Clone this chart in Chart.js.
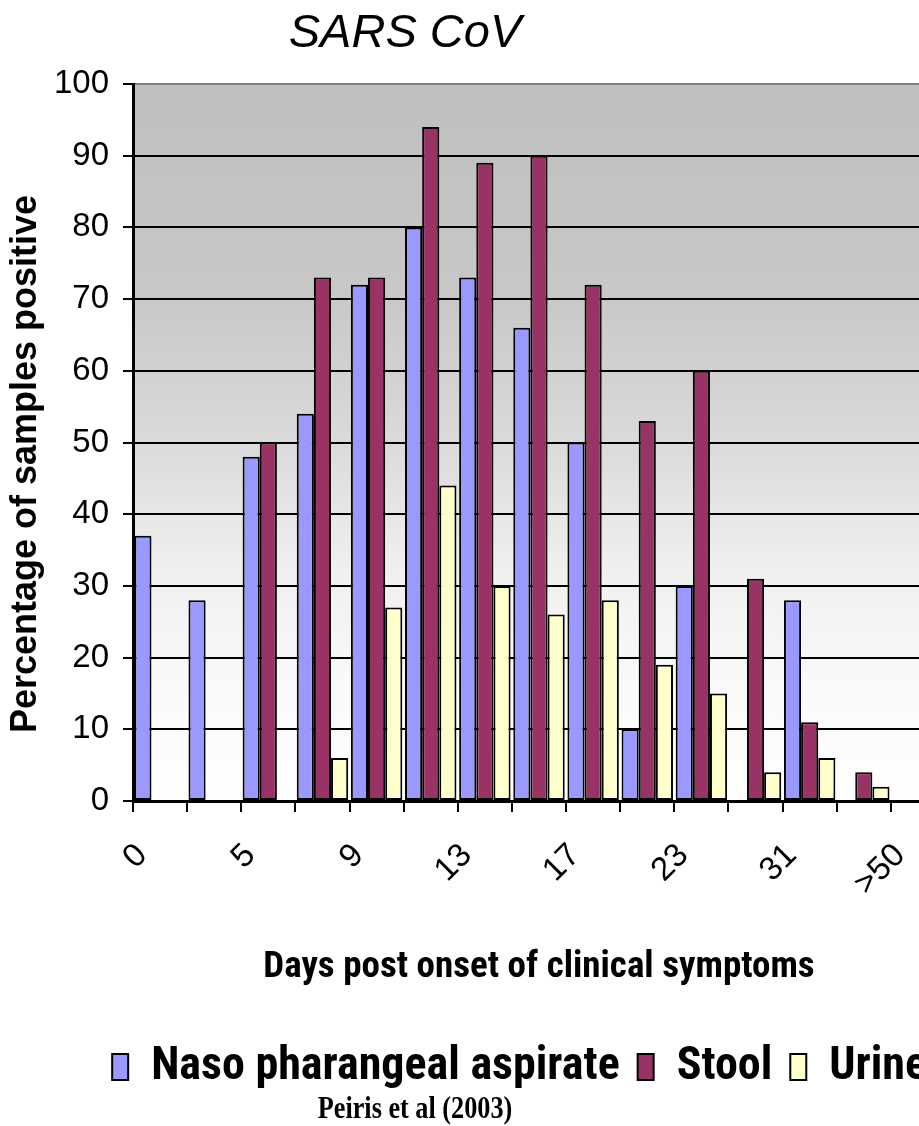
<!DOCTYPE html>
<html>
<head>
<meta charset="utf-8">
<title>SARS CoV</title>
<script src="https://cdn.jsdelivr.net/npm/chart.js@4.4.1/dist/chart.umd.min.js"></script>
<style>
  html, body { margin: 0; padding: 0; background: #fff; width: 919px; height: 1126px; overflow: hidden; }
  canvas { display: block; }
</style>
</head>
<body>
<canvas id="chart" width="1040" height="1126"></canvas>
<script>
// Days post onset of clinical symptoms (only every other group is labelled)
const categories = ['0', '', '5', '', '9', '', '13', '', '17', '', '23', '', '31', '', '>50'];

// Percentage of samples positive per specimen type
const nasoPharyngeal = [37, 28, 48, 54, 72, 80, 73, 66, 50, 10, 30, null, 28, null, null];
const stool          = [null, null, 50, 73, 73, 94, 89, 90, 72, 53, 60, 31, 11, 4, null];
const urine          = [null, null, null, 6, 27, 44, 30, 26, 28, 19, 15, 4, 6, 2, null];

const seriesNames = ['Naso pharangeal aspirate', 'Stool', 'Urine'];

// Value axis
const yMin = 0;
const yMax = 100;
const yStep = 10;

const SANS = "'Liberation Sans', Arial, sans-serif";
const SERIF = "'Liberation Serif', 'Times New Roman', serif";
const NARROW = "'Roboto Condensed', 'Liberation Sans', sans-serif";

Chart.defaults.font.family = SANS;
Chart.defaults.color = '#000';

// Gray-to-white plot background plus the free-standing texts
const decorations = {
  id: 'decorations',
  beforeDraw(chart) {
    const { ctx, chartArea: a } = chart;
    const g = ctx.createLinearGradient(0, a.top, 0, a.bottom);
    g.addColorStop(0.00, '#bfbfbf');
    g.addColorStop(0.30, '#c8c8c8');
    g.addColorStop(0.50, '#dadada');
    g.addColorStop(0.67, '#efefef');
    g.addColorStop(0.85, '#fafafa');
    g.addColorStop(1.00, '#ffffff');
    ctx.save();
    ctx.fillStyle = g;
    ctx.fillRect(a.left, a.top, a.right - a.left, a.bottom - a.top);
    ctx.restore();
  },
  afterDraw(chart) {
    const ctx = chart.ctx;
    ctx.save();
    ctx.fillStyle = '#000';

    ctx.font = 'italic 47px ' + SANS;
    ctx.textAlign = 'center';
    ctx.textBaseline = 'alphabetic';
    ctx.fillText('SARS CoV', 405, 47);

    ctx.save();
    ctx.translate(26, 464);
    ctx.rotate(-Math.PI / 2);
    ctx.font = 'bold 36px ' + SANS;
    ctx.textAlign = 'center';
    ctx.textBaseline = 'middle';
    ctx.fillText('Percentage of samples positive', 0, 0);
    ctx.restore();

    ctx.save();
    ctx.translate(415, 1118);
    ctx.scale(0.82, 1);
    ctx.font = 'bold 32px ' + SERIF;
    ctx.textAlign = 'center';
    ctx.textBaseline = 'alphabetic';
    ctx.fillText('Peiris et al (2003)', 0, 0);
    ctx.restore();

    ctx.restore();
  }
};

const barStyle = {
  borderColor: '#000',
  borderWidth: 2,
  borderSkipped: false,
  categoryPercentage: 0.95,
  barPercentage: 1.0
};

new Chart(document.getElementById('chart'), {
  type: 'bar',
  data: {
    labels: categories,
    datasets: [
      Object.assign({ label: seriesNames[0], data: nasoPharyngeal, backgroundColor: '#9999ff' }, barStyle),
      Object.assign({ label: seriesNames[1], data: stool, backgroundColor: '#993366' }, barStyle),
      Object.assign({ label: seriesNames[2], data: urine, backgroundColor: '#ffffcc' }, barStyle)
    ]
  },
  options: {
    responsive: false,
    animation: false,
    devicePixelRatio: 1,
    layout: { padding: { left: 0, top: 84, right: 95, bottom: 26 } },
    plugins: {
      title: { display: false },
      tooltip: { enabled: false },
      legend: {
        position: 'bottom',
        align: 'end',
        labels: {
          font: { family: NARROW, weight: 'bold', size: 46 },
          color: '#000',
          boxWidth: 16,
          boxHeight: 26,
          padding: 18
        }
      }
    },
    scales: {
      x: {
        grid: {
          offset: true,
          drawOnChartArea: false,
          drawTicks: true,
          tickLength: 11,
          color: '#000',
          lineWidth: 2
        },
        border: { display: true, color: '#000', width: 3 },
        ticks: {
          autoSkip: false,
          minRotation: 45,
          maxRotation: 45,
          padding: 24,
          labelOffset: -18,
          color: '#000',
          font: { family: SANS, size: 33 }
        },
        title: {
          display: true,
          text: 'Days post onset of clinical symptoms',
          color: '#000',
          font: { family: NARROW, weight: 'bold', size: 37 },
          padding: { top: 0, bottom: 36 }
        },
        afterFit(scale) { scale.height = 225; }
      },
      y: {
        min: yMin,
        max: yMax,
        grid: {
          color: (c) => (c.tick && c.tick.value === yMax ? '#808080' : '#000'),
          tickColor: '#000',
          lineWidth: 2,
          drawTicks: true,
          tickLength: 10
        },
        border: { display: true, color: '#000', width: 3 },
        ticks: {
          stepSize: yStep,
          padding: 14,
          color: '#000',
          font: { family: SANS, size: 33 }
        },
        afterFit(scale) { scale.width = 133; }
      }
    }
  },
  plugins: [decorations]
});
</script>
</body>
</html>
